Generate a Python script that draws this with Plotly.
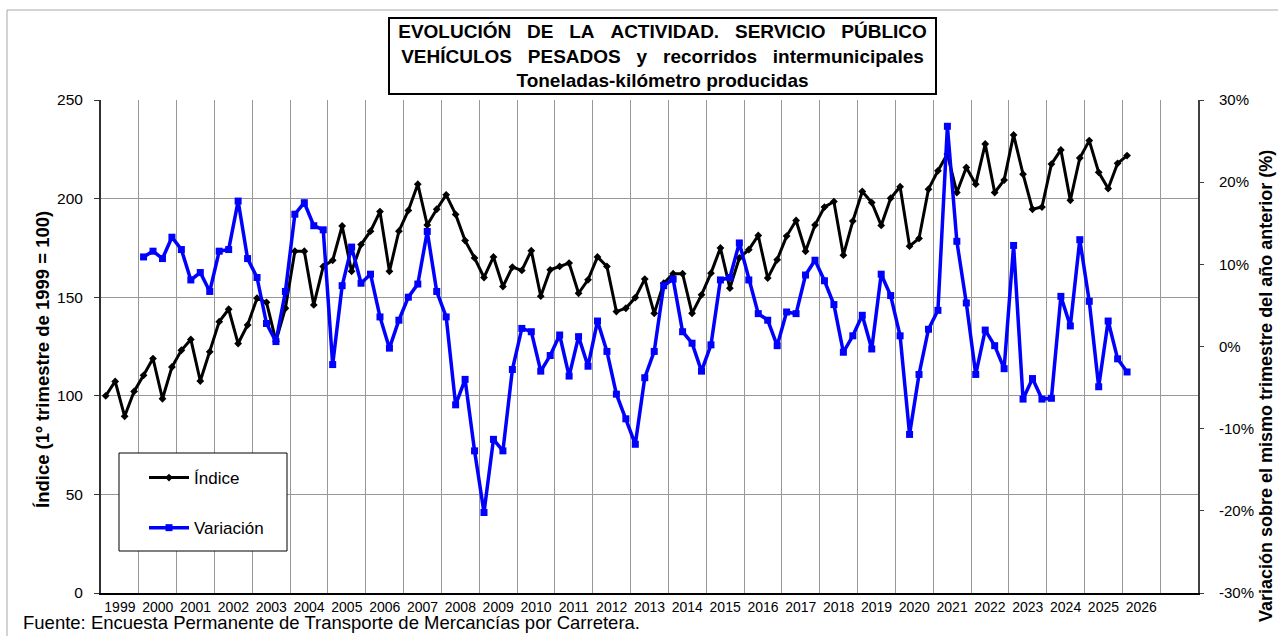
import plotly.graph_objects as go

# ---- data (quarterly, 1999 Q1 onward) ----
years = ["1999", "2000", "2001", "2002", "2003", "2004", "2005", "2006", "2007",
         "2008", "2009", "2010", "2011", "2012", "2013", "2014", "2015", "2016",
         "2017", "2018", "2019", "2020", "2021", "2022", "2023", "2024", "2025", "2026"]

indice = [
    100.0, 107.3, 89.6, 102.2,    # 1999
    110.4, 118.9, 98.5, 114.6,    # 2000
    123.1, 128.6, 107.5, 122.3,   # 2001
    137.6, 143.9, 126.5, 135.9,   # 2002
    149.5, 147.4, 127.7, 144.4,   # 2003
    173.3, 173.3, 146.1, 165.6,   # 2004
    168.7, 186.1, 163.1, 176.7,   # 2005
    183.5, 193.4, 163.1, 183.5,   # 2006
    194.0, 207.3, 186.6, 194.6,   # 2007
    201.9, 192.0, 178.7, 169.9,   # 2008
    160.0, 170.4, 155.4, 165.3,   # 2009
    163.6, 173.6, 150.5, 163.9,   # 2010
    165.6, 167.3, 152.0, 158.8,   # 2011
    170.4, 165.6, 142.7, 144.4,   # 2012
    149.8, 159.2, 141.8, 157.1,   # 2013
    161.9, 161.9, 141.8, 151.2,   # 2014
    162.2, 175.0, 154.6, 169.9,   # 2015
    174.1, 181.3, 159.7, 169.0,   # 2016
    181.0, 188.9, 173.3, 186.6,   # 2017
    195.7, 198.5, 171.3, 188.6,   # 2018
    203.6, 198.0, 186.4, 200.2,   # 2019
    206.0, 175.9, 179.8, 204.8,   # 2020
    214.1, 222.6, 203.1, 215.8,   # 2021
    207.3, 227.7, 203.1, 209.4,   # 2022
    232.3, 212.4, 194.6, 195.7,   # 2023
    217.5, 224.7, 199.1, 220.6,   # 2024
    229.4, 213.3, 205.1, 217.9,   # 2025
    221.8,                        # 2026
]

# year-on-year variation (%), starting 2000 Q1
variacion = [
    10.9, 11.6, 10.7, 13.3,     # 2000
    11.8, 8.1, 9.0, 6.7,        # 2001
    11.6, 11.8, 17.7, 10.7,     # 2002
    8.4, 2.8, 0.6, 6.7,         # 2003
    16.1, 17.5, 14.7, 14.2,     # 2004
    -2.2, 7.4, 12.1, 7.7,       # 2005
    8.8, 3.6, -0.2, 3.2,        # 2006
    6.0, 7.6, 14.0, 6.7,        # 2007
    3.6, -7.1, -4.0, -12.7,     # 2008
    -20.2, -11.3, -12.7, -2.8,  # 2009
    2.2, 1.8, -3.0, -1.1,       # 2010
    1.4, -3.6, 1.2, -2.4,       # 2011
    3.1, -0.6, -5.8, -8.8,      # 2012
    -11.9, -3.8, -0.6, 7.4,     # 2013
    8.2, 1.8, 0.4, -3.0,        # 2014
    0.2, 8.1, 8.4, 12.6,        # 2015
    8.1, 4.0, 3.2, 0.1,         # 2016
    4.2, 4.0, 8.7, 10.5,        # 2017
    8.0, 5.1, -0.7, 1.3,        # 2018
    3.8, -0.3, 8.8, 6.2,        # 2019
    1.3, -10.7, -3.4, 2.1,      # 2020
    4.4, 26.8, 12.8, 5.3,       # 2021
    -3.4, 2.0, 0.1, -2.7,       # 2022
    12.3, -6.4, -3.9, -6.4,     # 2023
    -6.3, 6.1, 2.5, 13.0,       # 2024
    5.5, -4.9, 3.1, -1.5,       # 2025
    -3.1,                       # 2026
]

var_tickvals = [-30, -20, -10, 0, 10, 20, 30]
var_ticktext = ["-30%", "-20%", "-10%", "0%", "10%", "20%", "30%"]

FONT = "Liberation Sans, Arial, sans-serif"
N_SLOTS = len(years) + 1          # one empty year slot at the right end
q_idx = list(range(len(indice)))
v_idx = list(range(4, 4 + len(variacion)))
year_centers = [4 * i + 1.5 for i in range(len(years))]

fig = go.Figure()
fig.add_trace(go.Scatter(
    x=q_idx, y=indice, name="Índice", mode="lines+markers",
    line=dict(color="#000000", width=3),
    marker=dict(symbol="diamond", size=6, color="#000000"),
    legendgroup="a", yaxis="y"))
fig.add_trace(go.Scatter(
    x=v_idx, y=variacion, name="Variación", mode="lines+markers",
    line=dict(color="#0000FF", width=3.5),
    marker=dict(symbol="square", size=7, color="#0000FF"),
    legendgroup="b", yaxis="y2"))

W, H = 1278, 636
L, R, T, B = 101, 80, 100, 43
pw, ph = W - L - R, H - T - B


def px(x):
    return (x - L) / pw


def py(y):
    return (H - B - y) / ph


fig.update_layout(
    width=W, height=H,
    margin=dict(l=L, r=R, t=T, b=B),
    paper_bgcolor="white", plot_bgcolor="white",
    font=dict(family=FONT, color="#000000", size=15),
    showlegend=True,
    legend=dict(x=px(144), y=py(460), xanchor="left", yanchor="top",
                bgcolor="rgba(0,0,0,0)", borderwidth=0,
                font=dict(size=17, family=FONT), tracegroupgap=25,
                traceorder="grouped", itemwidth=40),
    xaxis=dict(
        range=[-0.5, N_SLOTS * 4 - 0.5],
        tickmode="array", tickvals=year_centers, ticktext=years,
        ticks="", showgrid=False, zeroline=False,
        tickfont=dict(size=14, family=FONT),
        showline=True, linecolor="#000000", linewidth=1.5,
        minor=dict(tick0=-0.5, dtick=4, showgrid=True,
                   gridcolor="#989898", gridwidth=1, ticks=""),
    ),
    yaxis=dict(
        range=[0, 250], dtick=50, tick0=0,
        showgrid=True, gridcolor="#989898", gridwidth=1,
        zeroline=False,
        showline=True, linecolor="#303030", linewidth=2,
        ticks="outside", ticklen=5, tickcolor="#303030",
        tickfont=dict(size=15.5, family=FONT),
        ticklabelstandoff=8,
    ),
    yaxis2=dict(
        range=[-30, 30], overlaying="y", side="right",
        tickmode="array", tickvals=var_tickvals, ticktext=var_ticktext,
        showgrid=False, zeroline=False,
        showline=True, linecolor="#404040", linewidth=2,
        ticks="outside", ticklen=4, tickcolor="#404040",
        tickfont=dict(size=15, family=FONT),
        ticklabelstandoff=12,
    ),
    shapes=[
        # outer chart frame
        dict(type="rect", xref="paper", yref="paper",
             x0=px(7), x1=px(1300), y0=py(660), y1=py(10),
             line=dict(color="#a8a8a8", width=1), fillcolor="rgba(0,0,0,0)",
             layer="below"),
        # legend frame
        dict(type="rect", xref="paper", yref="paper",
             x0=px(119), x1=px(287), y0=py(551), y1=py(453),
             line=dict(color="#000000", width=1), fillcolor="white",
             layer="above"),
    ],
    annotations=[
        dict(text=("EVOLUCIÓN\u00a0\u00a0\u00a0DE\u00a0\u00a0\u00a0LA\u00a0\u00a0\u00a0ACTIVIDAD."
                   "\u00a0\u00a0\u00a0SERVICIO\u00a0\u00a0\u00a0PÚBLICO<br>"
                   "VEHÍCULOS\u00a0\u00a0\u00a0PESADOS\u00a0\u00a0\u00a0y\u00a0\u00a0\u00a0recorridos"
                   "\u00a0\u00a0\u00a0intermunicipales<br>"
                   "Toneladas-kilómetro producidas"),
             xref="paper", yref="paper", x=px(662), y=py(56),
             xanchor="center", yanchor="middle", showarrow=False,
             font=dict(size=19, family=FONT, color="#000000", weight="bold"),
             align="center", bordercolor="#000000", borderwidth=2,
             borderpad=2, bgcolor="white", width=541),
        dict(text="Índice (1º trimestre de 1999 = 100)",
             xref="paper", yref="paper", x=px(42), y=py(360),
             xanchor="center", yanchor="middle", showarrow=False,
             textangle=-90,
             font=dict(size=18.5, family=FONT, weight="bold")),
        dict(text="Variación sobre el mismo trimestre del año anterior (%)",
             xref="paper", yref="paper", x=px(1266), y=py(386),
             xanchor="center", yanchor="middle", showarrow=False,
             textangle=-90,
             font=dict(size=18, family=FONT, weight="bold")),
        dict(text="Fuente: Encuesta Permanente de Transporte de Mercancías por Carretera.",
             xref="paper", yref="paper", x=px(21), y=py(622),
             xanchor="left", yanchor="middle", showarrow=False,
             font=dict(size=18.5, family=FONT)),
    ],
)

fig.write_html("out.html",
               config={"displayModeBar": False},
               post_script="document.body.style.margin='0';document.body.style.padding='0';")
